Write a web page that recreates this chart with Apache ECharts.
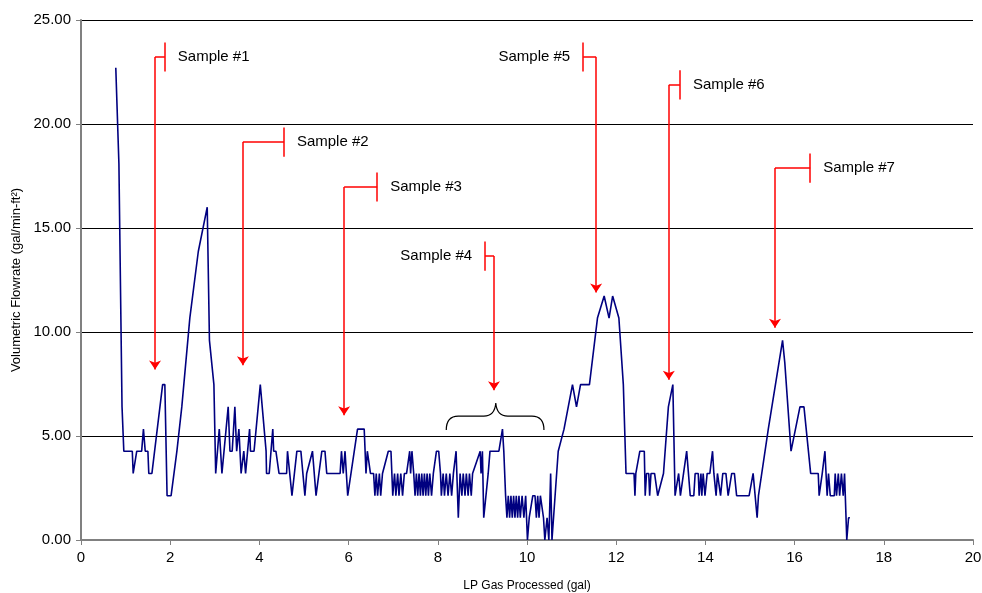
<!DOCTYPE html>
<html>
<head>
<meta charset="utf-8">
<title>Volumetric Flowrate vs LP Gas Processed</title>
<script src="https://cdn.jsdelivr.net/npm/echarts@6/dist/echarts.min.js"></script>
<style>
  html, body { margin: 0; padding: 0; background: #fff; }
  #chart { width: 982px; height: 593px; }
</style>
</head>
<body>
<div id="chart"></div>
<script>
// LP gas processed (gal)
const flowX = [
  0.78, 0.85, 0.92, 0.96, 1.15, 1.17, 1.25, 1.36, 1.40, 1.44, 1.50, 1.52, 1.59, 1.83, 1.88, 1.93, 2.02,
  2.15, 2.26, 2.44, 2.63, 2.83, 2.88, 2.98, 3.02, 3.10, 3.16, 3.30, 3.34, 3.39, 3.45, 3.49, 3.54, 3.59,
  3.65, 3.69, 3.78, 3.80, 3.88, 4.02, 4.15, 4.16, 4.22, 4.30, 4.32, 4.37, 4.44,
  4.46, 4.61, 4.63, 4.73, 4.84, 4.93, 5.02, 5.06, 5.19, 5.27, 5.40, 5.47, 5.51, 5.81,
  5.84, 5.88, 5.92, 5.98, 6.20, 6.35, 6.39, 6.42, 6.46, 6.49, 6.56, 6.59,
  6.62, 6.65, 6.69, 6.72, 6.76, 6.89, 6.95, 6.99, 7.03, 7.06, 7.10, 7.13, 7.17, 7.21, 7.25, 7.30,
  7.37, 7.39, 7.42, 7.46, 7.49, 7.52, 7.55, 7.58, 7.61, 7.64, 7.67, 7.70, 7.73, 7.76, 7.79, 7.82,
  7.86, 7.90, 7.97, 8.02, 8.06, 8.08, 8.12, 8.15, 8.19, 8.23, 8.27, 8.31, 8.35, 8.41, 8.46, 8.50,
  8.54, 8.57, 8.61, 8.64, 8.68, 8.71, 8.75, 8.78, 8.82, 8.95, 8.97, 9.00, 9.03, 9.06, 9.13, 9.17,
  9.37, 9.45, 9.48, 9.52,
  9.55, 9.58, 9.61, 9.64, 9.67, 9.70, 9.73, 9.76, 9.79, 9.82, 9.85, 9.89, 9.93, 9.97, 10.01, 10.05,
  10.09, 10.13, 10.18, 10.21, 10.24, 10.27, 10.30, 10.34, 10.37, 10.40, 10.45, 10.49, 10.53, 10.56,
  10.70, 10.74, 10.83, 10.87, 11.02, 11.06, 11.11, 11.20, 11.40, 11.58, 11.73, 11.84, 11.92, 12.06,
  12.16, 12.22,
  12.40, 12.42, 12.44, 12.53, 12.63, 12.65, 12.68, 12.73, 12.75, 12.78, 12.86, 12.93, 13.06, 13.17,
  13.21, 13.27, 13.32, 13.36, 13.40, 13.44, 13.58, 13.62, 13.66, 13.74,
  13.77, 13.84, 13.86, 13.90, 13.92, 13.95, 13.99, 14.04, 14.10, 14.16, 14.19, 14.24, 14.27, 14.31,
  14.34, 14.39, 14.46, 14.51, 14.59, 14.65, 14.70, 14.98, 15.07, 15.11, 15.16, 15.19, 15.22, 15.41,
  15.44, 15.73, 15.78, 15.82, 15.92, 16.12, 16.21, 16.31, 16.34, 16.36, 16.53, 16.55, 16.62, 16.68,
  16.71, 16.73, 16.76, 16.80, 16.89, 16.91, 16.94, 16.98, 17.01, 17.05, 17.09, 17.12, 17.17, 17.21,
  17.24
];

// Volumetric flowrate (gal/min-ft²)
const flowY = [
  22.7, 18.1, 6.4, 4.27, 4.27, 3.2, 4.27, 4.27, 5.33, 4.27, 4.27, 3.2, 3.2, 7.47, 7.47, 2.13, 2.13,
  4.27, 6.4, 10.67, 13.87, 16.0, 9.6, 7.47, 3.2, 5.33, 3.2, 6.4, 4.27, 4.27, 6.4, 4.27, 5.33, 3.2,
  4.27, 3.2, 5.33, 4.27, 4.27, 7.47, 4.27, 3.2, 3.2, 5.33, 4.27, 4.27, 3.2,
  3.2, 3.2, 4.27, 2.13, 4.27, 4.27, 2.13, 3.2, 4.27, 2.13, 4.27, 4.27, 3.2, 3.2,
  4.27, 3.2, 4.27, 2.13, 5.33, 5.33, 3.2, 4.27, 4.27, 3.2, 3.2, 2.13,
  3.2, 2.13, 3.2, 2.13, 3.2, 4.27, 4.27, 2.13, 3.2, 2.13, 3.2, 2.13, 3.2, 2.13, 3.2, 3.2,
  4.27, 3.2, 4.27, 3.2, 2.13, 3.2, 2.13, 3.2, 2.13, 3.2, 2.13, 3.2, 2.13, 3.2, 2.13, 3.2,
  2.13, 3.2, 4.27, 4.27, 3.2, 2.13, 3.2, 2.13, 3.2, 2.13, 3.2, 2.13, 3.2, 4.27, 1.07, 3.2,
  2.13, 3.2, 2.13, 3.2, 2.13, 3.2, 2.13, 3.2, 3.2, 4.27, 3.2, 4.27, 1.07, 1.07, 3.2, 4.27,
  4.27, 5.33, 4.27, 2.13,
  1.07, 2.13, 1.07, 2.13, 1.07, 2.13, 1.07, 2.13, 1.07, 2.13, 1.07, 2.13, 1.07, 2.13, 0, 1.07,
  1.07, 2.13, 2.13, 1.07, 2.13, 1.07, 2.13, 2.13, 1.07, 0, 1.07, 0, 3.2, 0,
  4.27, 4.27, 5.33, 5.33, 7.47, 7.47, 6.4, 7.47, 7.47, 10.67, 11.73, 10.67, 11.73, 10.67,
  7.47, 3.2,
  3.2, 2.13, 3.2, 4.27, 4.27, 2.13, 3.2, 3.2, 2.13, 3.2, 3.2, 2.13, 3.2, 6.4,
  6.4, 7.47, 2.13, 2.13, 3.2, 2.13, 4.27, 4.27, 2.13, 2.13,
  3.2, 3.2, 2.13, 3.2, 2.13, 3.2, 2.13, 3.2, 3.2, 4.27, 3.2, 2.13, 3.2, 3.2,
  2.13, 3.2, 3.2, 2.13, 3.2, 3.2, 2.13, 2.13, 3.2, 3.2, 1.07, 2.13, 2.13, 5.33,
  5.33, 9.6, 8.53, 8.53, 4.27, 6.4, 6.4, 4.27, 4.27, 3.2, 3.2, 2.13, 3.2, 4.27,
  4.27, 2.13, 3.2, 2.13, 2.13, 3.2, 2.13, 3.2, 2.13, 3.2, 2.13, 3.2, 0, 1.07,
  1.07
];

// sample callouts: label, x of arrow, arrow tip y, elbow y, x of end bar, label side
const sampleNames = ['Sample #1', 'Sample #2', 'Sample #3', 'Sample #4', 'Sample #5', 'Sample #6', 'Sample #7'];
const arrowX = [1.66, 3.63, 5.90, 9.26, 11.55, 13.18, 15.56];
const arrowTipY = [8.2, 8.4, 6.0, 7.2, 11.9, 7.7, 10.2];
const elbowY = [23.22, 19.13, 16.97, 13.65, 23.22, 21.88, 17.88];
const barX = [1.88, 4.55, 6.64, 9.06, 11.26, 13.43, 16.35];
const labelSide = ['right', 'right', 'right', 'left', 'left', 'right', 'right'];

// brace under sample #4: left, middle, right x; end, bar, tip y
const braceX = [8.19, 9.30, 10.38];
const braceY = [5.29, 5.96, 6.59];

const yTicks = [0, 5, 10, 15, 20, 25];

const chart = echarts.init(document.getElementById('chart'));

const FONT = '"Liberation Sans", Arial, sans-serif';
const BAR_HALF = 0.7;

// 折线数据
const flowData = flowX.map((x, i) => [x, flowY[i]]);

// 红色引线：端头竖线、水平段、带箭头的竖直段
const plainSegs = [];
const arrowSegs = [];
sampleNames.forEach((name, i) => {
  plainSegs.push({ coords: [[barX[i], elbowY[i] - BAR_HALF], [barX[i], elbowY[i] + BAR_HALF]] });
  plainSegs.push({ coords: [[barX[i], elbowY[i]], [arrowX[i], elbowY[i]]] });
  arrowSegs.push({ coords: [[arrowX[i], elbowY[i]], [arrowX[i], arrowTipY[i]]] });
});
const labelData = sampleNames.map((name, i) => [barX[i], elbowY[i], i]);

const option = {
  animation: false,
  backgroundColor: '#fff',
  grid: {
    left: 81, right: 9, top: 20, bottom: 53,
    containLabel: false,
    outerBoundsMode: 'none'
  },
  xAxis: {
    type: 'value',
    min: 0,
    max: 20,
    interval: 2,
    name: 'LP Gas Processed (gal)',
    nameLocation: 'middle',
    nameGap: 40,
    nameTextStyle: { fontFamily: FONT, fontSize: 12, color: '#000' },
    axisLine: { show: true, lineStyle: { color: '#808080', width: 2 } },
    axisTick: { show: true, length: 5, lineStyle: { color: '#808080', width: 1 } },
    axisLabel: { fontFamily: FONT, fontSize: 15, color: '#000', margin: 10 },
    splitLine: { show: false }
  },
  yAxis: {
    type: 'value',
    min: yTicks[0],
    max: yTicks[yTicks.length - 1],
    interval: 5,
    name: 'Volumetric Flowrate (gal/min-ft²)',
    nameLocation: 'middle',
    nameGap: 57,
    nameTextStyle: { fontFamily: FONT, fontSize: 13, color: '#000' },
    axisLine: { show: true, lineStyle: { color: '#808080', width: 2 } },
    axisTick: { show: true, length: 5, lineStyle: { color: '#808080', width: 1 } },
    axisLabel: {
      fontFamily: FONT, fontSize: 15, color: '#000', margin: 10,
      formatter: v => v.toFixed(2)
    },
    splitLine: { show: true, lineStyle: { color: '#000', width: 1 } }
  },
  series: [
    {
      name: 'Flowrate',
      type: 'line',
      data: flowData,
      symbol: 'none',
      lineStyle: { color: '#000080', width: 1.6 },
      z: 3
    },
    {
      name: 'Leaders',
      type: 'lines',
      coordinateSystem: 'cartesian2d',
      data: plainSegs,
      symbol: 'none',
      lineStyle: { color: '#ff0000', width: 1.5, opacity: 1, curveness: 0 },
      z: 4
    },
    {
      name: 'Arrows',
      type: 'lines',
      coordinateSystem: 'cartesian2d',
      data: arrowSegs,
      symbol: ['none', 'arrow'],
      symbolSize: [7, 9],
      lineStyle: { color: '#ff0000', width: 1.5, opacity: 1, curveness: 0 },
      z: 4
    },
    {
      // 样本标注文字
      name: 'Labels',
      type: 'custom',
      data: labelData,
      silent: true,
      renderItem: (params, api) => {
        const i = api.value(2);
        const p = api.coord([api.value(0), api.value(1)]);
        const right = labelSide[i] === 'right';
        return {
          type: 'text',
          x: p[0] + (right ? 13 : -13),
          y: p[1],
          style: {
            text: sampleNames[i],
            fill: '#000',
            font: '15px ' + FONT,
            align: right ? 'left' : 'right',
            verticalAlign: 'middle'
          }
        };
      },
      z: 5
    },
    {
      name: 'Brace',
      type: 'custom',
      data: [[braceX[1], braceY[2]]],
      renderItem: (params, api) => {
        const L = api.coord([braceX[0], braceY[0]]);
        const M = api.coord([braceX[1], braceY[2]]);
        const R = api.coord([braceX[2], braceY[0]]);
        const barY = api.coord([braceX[1], braceY[1]])[1];
        const r = 12;
        const d = [
          'M', L[0], L[1],
          'Q', L[0], barY, L[0] + r, barY,
          'L', M[0] - r, barY,
          'Q', M[0] - 1, barY, M[0], M[1],
          'Q', M[0] + 1, barY, M[0] + r, barY,
          'L', R[0] - r, barY,
          'Q', R[0], barY, R[0], R[1]
        ].join(' ');
        return {
          type: 'path',
          shape: { pathData: d },
          style: { fill: 'none', stroke: '#000', lineWidth: 1.2 }
        };
      },
      z: 4
    }
  ]
};

chart.setOption(option);
</script>
</body>
</html>
